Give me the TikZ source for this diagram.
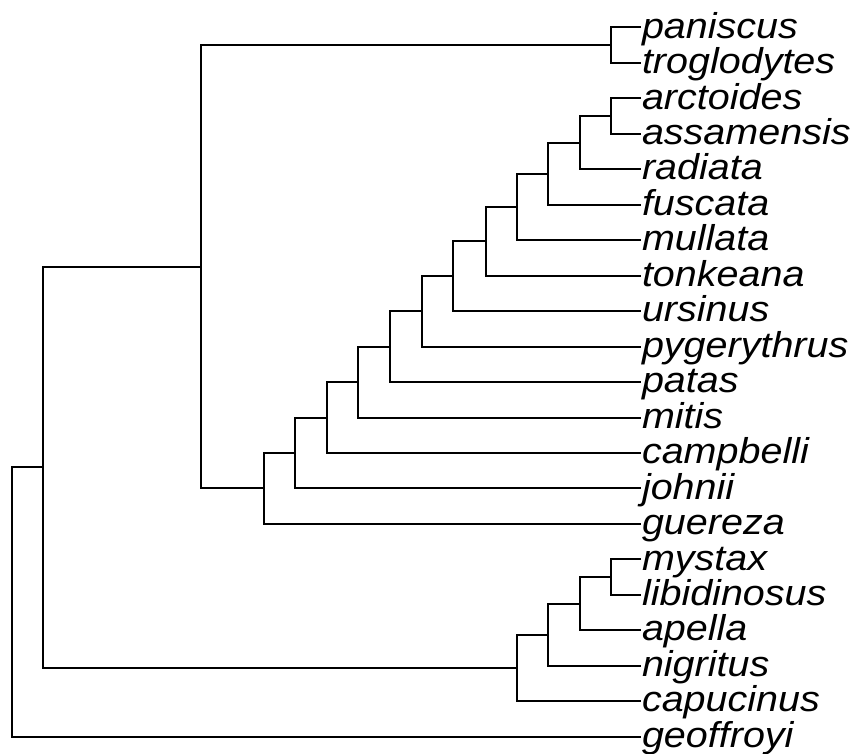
\documentclass[tikz,border=0pt]{standalone}
\usepackage{fontspec}
\setmainfont{Liberation Sans}
\begin{document}
\begin{tikzpicture}[x=1pt,y=-1pt,line width=2pt,
  tip/.style={anchor=base west,inner sep=0pt,font=\fontsize{39.5}{40}\selectfont\itshape}]
\useasboundingbox (0,0) rectangle (860,754);
\foreach \name [count=\i] in {paniscus,troglodytes,arctoides,assamensis,radiata,fuscata,mullata,tonkeana,ursinus,pygerythrus,patas,mitis,campbelli,johnii,guereza,mystax,libidinosus,apella,nigritus,capucinus,geoffroyi}{
  \coordinate (\name) at (641,{27.5+35.46*(\i-1)});
  \node[tip] (\name-lab) at ([yshift=-10.6pt]\name) {\scalebox{1}[0.91]{\name}};
}

\coordinate (root) at (11.7,602);
\coordinate (anthro) at (42.7,467.4);
\coordinate (catar) at (200.7,266.7);
\coordinate (pan) at (611,45.2);
\coordinate (cerco) at (264,488.4);
\coordinate (m11) at (295,452.9);
\coordinate (m10) at (327.3,417.5);
\coordinate (m9) at (358.3,382.1);
\coordinate (m8) at (390,346.7);
\coordinate (m7) at (421.7,311.3);
\coordinate (m6) at (453.3,276.2);
\coordinate (m5) at (485.7,241.2);
\coordinate (m4) at (516.7,206.9);
\coordinate (m3) at (548.3,173.6);
\coordinate (m2) at (580,142.6);
\coordinate (m1) at (611,116.1);
\coordinate (platy) at (516.7,668);
\coordinate (w3) at (547.7,634.8);
\coordinate (w2) at (580,603.7);
\coordinate (w1) at (611,577.1);

\draw (paniscus) -| (pan) |- (troglodytes);
\draw (arctoides) -| (m1) |- (assamensis);
\draw (m1) -| (m2) |- (radiata);
\draw (m2) -| (m3) |- (fuscata);
\draw (m3) -| (m4) |- (mullata);
\draw (m4) -| (m5) |- (tonkeana);
\draw (m5) -| (m6) |- (ursinus);
\draw (m6) -| (m7) |- (pygerythrus);
\draw (m7) -| (m8) |- (patas);
\draw (m8) -| (m9) |- (mitis);
\draw (m9) -| (m10) |- (campbelli);
\draw (m10) -| (m11) |- (johnii);
\draw (m11) -| (cerco) |- (guereza);
\draw (pan) -| (catar) |- (cerco);

\draw (mystax) -| (w1) |- (libidinosus);
\draw (w1) -| (w2) |- (apella);
\draw (w2) -| (w3) |- (nigritus);
\draw (w3) -| (platy) |- (capucinus);

\draw (catar) -| (anthro) |- (platy);
\draw (anthro) -| (root) |- (geoffroyi);
\end{tikzpicture}
\end{document}
